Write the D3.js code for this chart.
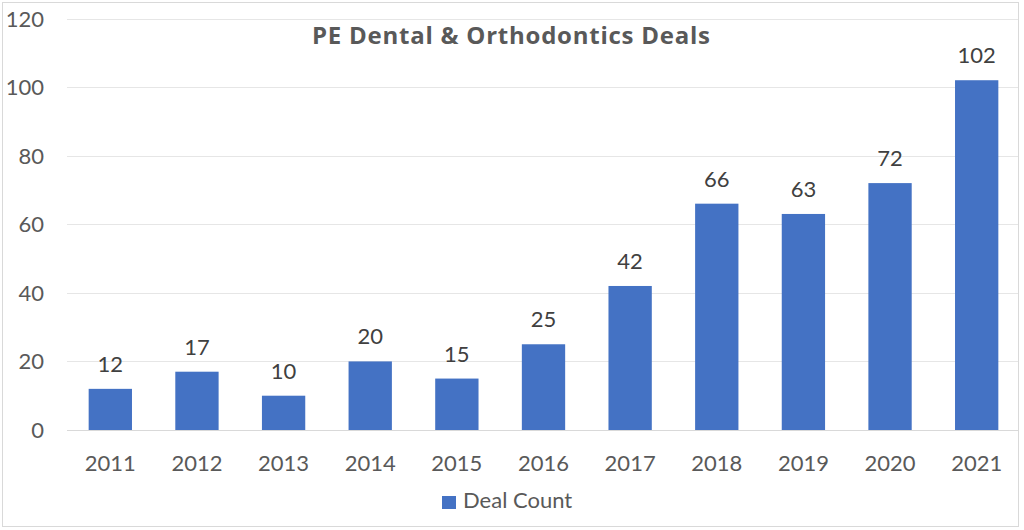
<!DOCTYPE html>
<html>
<head>
<meta charset="utf-8">
<script src="https://cdn.jsdelivr.net/npm/d3@7"></script>
<style>
  body { margin: 0; background: #fff; }
  svg { display: block; font-family: Lato, "Open Sans", sans-serif; }
</style>
</head>
<body>
<svg id="chart" width="1024" height="530"></svg>
<script>
const years = ['2011', '2012', '2013', '2014', '2015', '2016', '2017', '2018', '2019', '2020', '2021']
const dealCount = [12, 17, 10, 20, 15, 25, 42, 66, 63, 72, 102]
const yTicks = [0, 20, 40, 60, 80, 100, 120]

const data = years.map((y, i) => ({year: y, value: dealCount[i]}))

const $svg = d3.select('#chart')
const MARGIN = {top: 18, right: 4, bottom: 100, left: 67}

// outer frame
$svg.append('rect')
  .attr('x', 2.5).attr('y', 2.5)
  .attr('width', 1016).attr('height', 524)
  .attr('fill', '#fff')
  .attr('stroke', '#d9d9d9')

const xScale = d3.scaleBand()
  .domain(years)
  .range([MARGIN.left, 1020])
  .paddingInner(0.5)
  .paddingOuter(0.25)

const yScale = d3.scaleLinear()
  .domain([0, 120])
  .range([430, 18.5])

// gridlines
$svg.append('g')
  .selectAll('line')
  .data(yTicks)
  .enter()
  .append('line')
    .attr('x1', MARGIN.left)
    .attr('x2', 1018)
    .attr('y1', d => Math.round(yScale(d)) + 0.5)
    .attr('y2', d => Math.round(yScale(d)) + 0.5)
    .attr('stroke', d => d === 0 ? '#d9d9d9' : '#e6e6e6')
    .attr('stroke-width', 1.2)

// y axis labels
$svg.append('g')
  .selectAll('text')
  .data(yTicks)
  .enter()
  .append('text')
    .attr('x', 44)
    .attr('y', d => yScale(d) + 8)
    .attr('text-anchor', 'end')
    .attr('font-size', 22)
    .attr('fill', '#595959')
    .text(d => d)

// bars
$svg.append('g')
  .selectAll('rect')
  .data(data)
  .enter()
  .append('rect')
    .attr('x', d => xScale(d.year))
    .attr('y', d => yScale(d.value))
    .attr('width', xScale.bandwidth())
    .attr('height', d => yScale(0) - yScale(d.value))
    .attr('fill', '#4472c4')

// data labels
$svg.append('g')
  .selectAll('text')
  .data(data)
  .enter()
  .append('text')
    .attr('x', d => xScale(d.year) + xScale.bandwidth() / 2)
    .attr('y', d => yScale(d.value) - 17)
    .attr('text-anchor', 'middle')
    .attr('font-size', 22)
    .attr('fill', '#404040')
    .text(d => d.value)

// x axis labels
$svg.append('g')
  .selectAll('text')
  .data(years)
  .enter()
  .append('text')
    .attr('x', d => xScale(d) + xScale.bandwidth() / 2)
    .attr('y', 471)
    .attr('text-anchor', 'middle')
    .attr('font-size', 22)
    .attr('fill', '#595959')
    .text(d => d)

// title
$svg.append('text')
  .attr('x', 511)
  .attr('y', 44)
  .attr('text-anchor', 'middle')
  .attr('font-family', '"Open Sans", Lato, sans-serif')
  .attr('font-size', 24)
  .attr('font-weight', 'bold')
  .attr('fill', '#595959')
  .attr('textLength', 398)
  .attr('lengthAdjust', 'spacing')
  .text('PE Dental & Orthodontics Deals')

// legend
const $legend = $svg.append('g')
$legend.append('rect')
  .attr('x', 442).attr('y', 496)
  .attr('width', 14).attr('height', 13)
  .attr('fill', '#4472c4')
$legend.append('text')
  .attr('x', 463)
  .attr('y', 508)
  .attr('font-size', 22)
  .attr('fill', '#595959')
  .text('Deal Count')
</script>
</body>
</html>
